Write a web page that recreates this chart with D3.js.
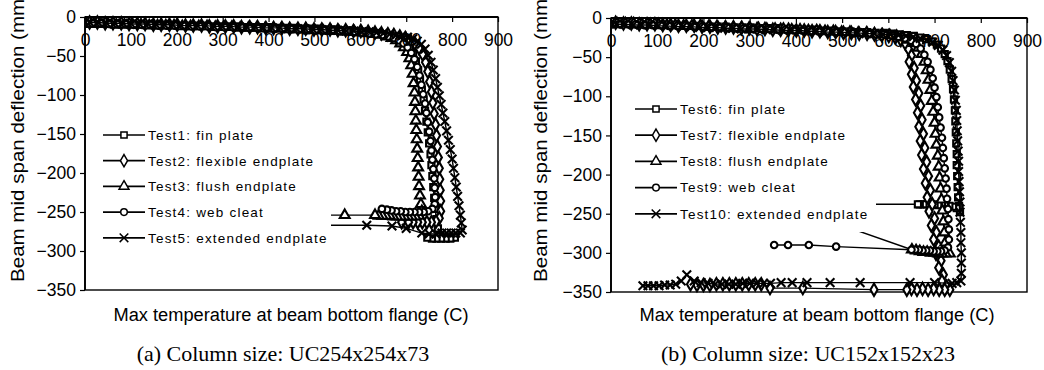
<!DOCTYPE html>
<html>
<head>
<meta charset="utf-8">
<script src="https://cdn.jsdelivr.net/npm/d3@7"></script>
<style>
  body { margin: 0; background: #fff; }
  svg text { font-family: "Liberation Sans", Arial, sans-serif; fill: #000; }
</style>
</head>
<body>
<svg id="chart" width="1044" height="370"></svg>
<script>
// axis ticks
const xTicks = [0, 100, 200, 300, 400, 500, 600, 700, 800, 900];
const yTicks = [0, -50, -100, -150, -200, -250, -300, -350];

// (a) UC254x254x73 : [temperature C, deflection mm]
const test1 = [[12,-8],[28,-8],[45,-8],[63,-9],[80,-9],[98,-9],[116,-9],[134,-10],[152,-10],[170,-10],[188,-10],[206,-11],[224,-11],[242,-11],[260,-11],[278,-12],[296,-12],[314,-12],[332,-12],[350,-13],[368,-13],[386,-13],[404,-13],[422,-14],[440,-14],[458,-14],[476,-15],[494,-15],[512,-15],[530,-16],[548,-16],[565,-17],[582,-17],[598,-18],[614,-19],[628,-20],[642,-21],[655,-22],[667,-24],[679,-26],[690,-29],[700,-33],[708,-39],[715,-47],[721,-57],[726,-68],[730,-80],[734,-93],[738,-106],[741,-120],[744,-134],[747,-148],[750,-162],[753,-176],[755,-190],[757,-204],[759,-218],[761,-232],[763,-246],[766,-259],[769,-271],[774,-280],[782,-283],[790,-283],[798,-283],[806,-283],[796,-284],[786,-284],[776,-284],[766,-284],[756,-284],[746,-283]];
const test2 = [[10,-7],[27,-7],[44,-8],[61,-8],[79,-8],[96,-9],[114,-9],[131,-9],[149,-10],[166,-10],[184,-10],[201,-10],[219,-11],[236,-11],[254,-11],[271,-12],[289,-12],[306,-12],[324,-12],[341,-13],[359,-13],[376,-13],[394,-14],[411,-14],[429,-14],[446,-15],[464,-15],[481,-15],[499,-16],[516,-16],[534,-16],[551,-17],[568,-17],[585,-18],[601,-18],[617,-19],[632,-20],[646,-21],[660,-22],[673,-23],[686,-25],[698,-27],[709,-30],[719,-34],[728,-40],[736,-48],[742,-58],[747,-70],[751,-83],[755,-96],[758,-110],[761,-124],[764,-138],[766,-152],[768,-166],[770,-180],[772,-194],[773,-208],[774,-222],[775,-236],[775,-249],[772,-258],[765,-262],[755,-263],[745,-263],[735,-263],[725,-263],[715,-263],[705,-263],[690,-263]];
const test3 = [[14,-9],[32,-9],[50,-9],[68,-10],[86,-10],[104,-10],[122,-10],[140,-11],[158,-11],[176,-11],[194,-11],[212,-12],[230,-12],[248,-12],[266,-12],[284,-13],[302,-13],[320,-13],[338,-14],[356,-14],[374,-14],[392,-15],[410,-15],[428,-15],[446,-16],[464,-16],[482,-16],[500,-17],[518,-17],[536,-18],[553,-18],[570,-19],[587,-19],[603,-20],[618,-21],[632,-22],[645,-23],[657,-25],[668,-27],[678,-30],[687,-34],[695,-39],[702,-45],[707,-53],[711,-62],[714,-73],[716,-85],[718,-97],[719,-109],[720,-121],[721,-133],[722,-145],[723,-157],[724,-169],[725,-181],[726,-193],[727,-205],[728,-217],[730,-229],[732,-240],[734,-249],[728,-255],[720,-256],[712,-256],[704,-256],[696,-256],[688,-256],[680,-256],[672,-256],[664,-255],[656,-255],[648,-255],[640,-255],[632,-254],[566,-254],[480,-254]];
const test4 = [[16,-8],[34,-8],[52,-9],[70,-9],[88,-9],[106,-10],[124,-10],[142,-10],[160,-11],[178,-11],[196,-11],[214,-11],[232,-12],[250,-12],[268,-12],[286,-13],[304,-13],[322,-13],[340,-13],[358,-14],[376,-14],[394,-14],[412,-15],[430,-15],[448,-15],[466,-16],[484,-16],[502,-17],[520,-17],[538,-17],[555,-18],[572,-18],[588,-19],[604,-20],[619,-21],[634,-22],[648,-23],[661,-25],[673,-27],[684,-30],[694,-34],[703,-39],[711,-46],[718,-54],[724,-64],[729,-75],[733,-87],[737,-99],[741,-111],[744,-123],[747,-135],[750,-147],[753,-159],[755,-171],[757,-183],[759,-195],[761,-207],[762,-219],[763,-231],[762,-240],[757,-246],[748,-249],[738,-250],[728,-250],[718,-250],[708,-250],[698,-250],[688,-249],[678,-249],[668,-248],[658,-247],[647,-246]];
const test5 = [[11,-7],[29,-7],[47,-8],[65,-8],[83,-8],[101,-9],[119,-9],[137,-9],[155,-10],[173,-10],[191,-10],[209,-11],[227,-11],[245,-11],[263,-11],[281,-12],[299,-12],[317,-12],[335,-13],[353,-13],[371,-13],[389,-14],[407,-14],[425,-14],[443,-15],[461,-15],[479,-15],[497,-16],[515,-16],[533,-17],[551,-17],[569,-18],[586,-18],[603,-19],[619,-19],[635,-20],[650,-21],[664,-22],[678,-23],[691,-24],[703,-26],[714,-28],[724,-31],[733,-35],[741,-41],[748,-49],[754,-58],[759,-68],[764,-79],[768,-90],[772,-101],[776,-112],[780,-123],[784,-134],[788,-146],[792,-158],[796,-170],[800,-182],[803,-194],[806,-206],[809,-218],[812,-230],[815,-242],[818,-254],[820,-264],[822,-273],[818,-277],[808,-277],[798,-277],[788,-277],[778,-277],[765,-278],[750,-278],[734,-277],[700,-271],[669,-268],[614,-267],[500,-267]];

// (b) UC152x152x23 : [temperature C, deflection mm]
const test6 = [[14,-7],[32,-7],[50,-8],[68,-8],[86,-8],[104,-9],[122,-9],[140,-9],[158,-10],[176,-10],[194,-10],[212,-11],[230,-11],[248,-11],[266,-12],[284,-12],[302,-12],[320,-13],[338,-13],[356,-13],[374,-14],[392,-14],[410,-15],[428,-15],[446,-15],[464,-16],[482,-16],[500,-17],[518,-17],[536,-18],[554,-18],[572,-19],[590,-19],[607,-20],[624,-21],[640,-22],[655,-23],[669,-25],[682,-27],[694,-30],[705,-34],[714,-39],[722,-46],[728,-55],[733,-66],[737,-78],[740,-91],[742,-104],[744,-118],[745,-132],[746,-146],[747,-160],[748,-174],[748,-188],[749,-202],[750,-216],[751,-229],[753,-240],[755,-248],[748,-243],[740,-241],[732,-240],[724,-239],[716,-239],[708,-239],[700,-238],[692,-238],[684,-238],[676,-238],[668,-238],[664,-238],[560,-238]];
const test7 = [[10,-6],[27,-7],[44,-7],[61,-8],[78,-8],[95,-8],[112,-9],[129,-9],[146,-10],[163,-10],[180,-10],[197,-11],[214,-11],[231,-12],[248,-12],[265,-12],[282,-13],[299,-13],[316,-14],[333,-14],[350,-15],[367,-15],[384,-15],[401,-16],[418,-16],[435,-17],[452,-17],[469,-18],[486,-18],[503,-19],[520,-19],[537,-20],[554,-20],[570,-21],[586,-22],[601,-23],[615,-25],[627,-28],[637,-33],[644,-40],[650,-48],[645,-56],[656,-64],[650,-72],[661,-80],[654,-88],[666,-96],[659,-104],[670,-112],[663,-121],[673,-130],[666,-139],[676,-148],[669,-157],[679,-166],[672,-175],[683,-184],[676,-193],[687,-202],[680,-211],[691,-220],[684,-229],[695,-238],[688,-247],[700,-256],[693,-265],[704,-274],[698,-283],[709,-292],[703,-301],[714,-310],[709,-319],[719,-328],[716,-336],[726,-343],[733,-347],[722,-347],[710,-347],[698,-346],[686,-347],[674,-346],[662,-347],[650,-346],[640,-347],[569,-347],[415,-345],[344,-345],[325,-340],[312,-340],[298,-340],[284,-340],[270,-340],[256,-340],[242,-340],[228,-340],[214,-341],[200,-341],[186,-341],[172,-340]];
const test8 = [[13,-7],[31,-7],[49,-7],[67,-8],[85,-8],[103,-8],[121,-9],[139,-9],[157,-10],[175,-10],[193,-10],[211,-11],[229,-11],[247,-12],[265,-12],[283,-12],[301,-13],[319,-13],[337,-14],[355,-14],[373,-14],[391,-15],[409,-15],[427,-16],[445,-16],[463,-17],[481,-17],[499,-18],[517,-18],[535,-19],[553,-19],[570,-20],[587,-21],[603,-22],[618,-23],[632,-25],[645,-28],[656,-32],[665,-38],[672,-46],[678,-56],[683,-67],[687,-79],[691,-92],[694,-106],[697,-120],[700,-134],[702,-148],[704,-162],[707,-176],[709,-190],[711,-204],[713,-218],[715,-232],[717,-246],[719,-260],[721,-274],[723,-287],[726,-297],[733,-301],[724,-301],[716,-301],[708,-301],[700,-300],[692,-300],[684,-299],[676,-299],[668,-298],[660,-297],[651,-296],[409,-246]];
const test9 = [[17,-8],[35,-8],[53,-8],[71,-9],[89,-9],[107,-9],[125,-10],[143,-10],[161,-10],[179,-11],[197,-11],[215,-12],[233,-12],[251,-12],[269,-13],[287,-13],[305,-14],[323,-14],[341,-14],[359,-15],[377,-15],[395,-16],[413,-16],[431,-17],[449,-17],[467,-17],[485,-18],[503,-18],[521,-19],[539,-19],[557,-20],[574,-21],[591,-21],[607,-22],[622,-24],[636,-26],[649,-29],[660,-33],[670,-39],[678,-47],[685,-56],[691,-66],[696,-77],[700,-89],[704,-101],[707,-114],[710,-127],[713,-140],[716,-153],[718,-166],[720,-179],[722,-192],[724,-205],[726,-218],[727,-231],[729,-244],[730,-257],[731,-270],[731,-283],[729,-293],[722,-297],[714,-298],[706,-298],[698,-298],[690,-297],[682,-297],[674,-297],[666,-296],[658,-296],[650,-296],[487,-292],[428,-290],[383,-290],[353,-290]];
const test10 = [[12,-8],[30,-8],[48,-9],[66,-9],[84,-9],[102,-10],[120,-10],[138,-11],[156,-11],[174,-11],[192,-12],[210,-12],[228,-12],[246,-13],[264,-13],[282,-14],[300,-14],[318,-14],[336,-15],[354,-15],[372,-16],[390,-16],[408,-16],[426,-17],[444,-17],[462,-18],[480,-18],[498,-18],[516,-19],[534,-19],[552,-20],[570,-20],[588,-21],[605,-21],[622,-22],[638,-23],[654,-24],[669,-26],[683,-28],[696,-31],[708,-35],[718,-41],[726,-48],[732,-57],[737,-68],[740,-80],[743,-92],[745,-105],[747,-118],[748,-131],[749,-144],[750,-157],[751,-170],[752,-183],[752,-196],[753,-209],[754,-222],[755,-235],[755,-248],[756,-261],[757,-274],[757,-287],[758,-300],[758,-313],[758,-326],[757,-336],[748,-338],[738,-339],[700,-338],[647,-338],[539,-338],[474,-338],[424,-338],[392,-338],[368,-338],[345,-339],[330,-339],[315,-339],[300,-339],[285,-339],[270,-340],[255,-340],[240,-340],[225,-340],[210,-339],[195,-338],[180,-336],[164,-328],[152,-336],[140,-340],[128,-341],[116,-341],[104,-342],[92,-342],[80,-342],[69,-342]];

const namesA = ['Test1: fin plate', 'Test2: flexible endplate', 'Test3: flush endplate', 'Test4: web cleat', 'Test5: extended endplate'];
const namesB = ['Test6: fin plate', 'Test7: flexible endplate', 'Test8: flush endplate', 'Test9: web cleat', 'Test10: extended endplate'];
const captionA = '(a) Column size: UC254x254x73';
const captionB = '(b) Column size: UC152x152x23';
const xTitle = 'Max temperature at beam bottom flange (C)';
const yTitle = 'Beam mid span deflection (mm)';

// marker shapes, same order in both panels
const shapes = [
  { type: d3.symbolSquare, size: 38 },
  { type: d3.symbolDiamond, size: 44 },
  { type: d3.symbolTriangle, size: 42 },
  { type: d3.symbolCircle, size: 34 },
  { type: d3.symbolTimes || d3.symbolX, size: 50 }
];

const svg = d3.select('#chart');
svg.append('rect').attr('width', 1044).attr('height', 370).attr('fill', '#fff');

function drawMarker(g, i, px, py, sw) {
  const s = shapes[i];
  g.append('path')
    .attr('transform', `translate(${px},${py})`)
    .attr('d', d3.symbol().type(s.type).size(s.size)())
    .attr('fill', '#fff')
    .attr('stroke', '#000')
    .attr('stroke-width', sw);
}

function drawPanel(p) {
  const x = d3.scaleLinear().domain([0, 900]).range([p.left, p.right]);
  const y = d3.scaleLinear().domain([0, -350]).range([p.top, p.bottom]);
  const g = svg.append('g');

  // frame of the plot area
  g.append('rect')
    .attr('x', p.left).attr('y', p.top)
    .attr('width', p.right - p.left).attr('height', p.bottom - p.top)
    .attr('fill', 'none').attr('stroke', '#000').attr('stroke-width', 1.4);

  // series: line first, then its markers
  const line = d3.line().x(d => x(d[0])).y(d => y(d[1]));
  p.series.forEach((data, i) => {
    g.append('path').datum(data)
      .attr('d', line)
      .attr('fill', 'none')
      .attr('stroke', '#000')
      .attr('stroke-width', 1.4);
    const mg = g.append('g');
    data.forEach(d => drawMarker(mg, i, x(d[0]), y(d[1]), 2.1));
  });

  // x axis sits on y = 0 (top), labels hang below it
  const xAxis = d3.axisBottom(x).tickValues(xTicks).tickSize(5).tickSizeOuter(0).tickPadding(12);
  const gx = g.append('g').attr('transform', `translate(0,${y(0)})`).call(xAxis);
  gx.select('.domain').remove();
  gx.selectAll('line').attr('stroke', '#000').attr('stroke-width', 1.2);
  gx.selectAll('text').attr('font-size', '17.5px').attr('font-family', '"Liberation Sans", Arial, sans-serif');

  const yAxis = d3.axisLeft(y).tickValues(yTicks).tickSize(5).tickSizeOuter(0).tickPadding(4);
  const gy = g.append('g').attr('transform', `translate(${x(0)},0)`).call(yAxis);
  gy.select('.domain').remove();
  gy.selectAll('line').attr('stroke', '#000').attr('stroke-width', 1.2);
  gy.selectAll('text').attr('font-size', '17.5px').attr('font-family', '"Liberation Sans", Arial, sans-serif');

  // redraw axis lines on top
  g.append('line').attr('x1', p.left).attr('x2', p.right).attr('y1', y(0)).attr('y2', y(0))
    .attr('stroke', '#000').attr('stroke-width', 1.8);
  g.append('line').attr('x1', x(0)).attr('x2', x(0)).attr('y1', p.top).attr('y2', p.bottom)
    .attr('stroke', '#000').attr('stroke-width', 1.8);

  // legend with white box
  const lg = g.append('g');
  lg.append('rect')
    .attr('x', p.legX - 4).attr('y', p.legY - 14)
    .attr('width', p.legW).attr('height', p.legH)
    .attr('fill', '#fff');
  p.names.forEach((name, i) => {
    const cy = p.legY + i * p.legStep;
    lg.append('line').attr('x1', p.legX).attr('x2', p.legX + 42).attr('y1', cy).attr('y2', cy)
      .attr('stroke', '#000').attr('stroke-width', 1.7);
    drawMarker(lg, i, p.legX + 21, cy, 1.5);
    lg.append('text')
      .attr('x', p.legX + 45).attr('y', cy + 4.8)
      .attr('font-size', '13.5px').attr('letter-spacing', '1.2px')
      .text(name);
  });

  // titles
  g.append('text')
    .attr('x', p.xTitleX).attr('y', 321)
    .attr('text-anchor', 'middle').attr('font-size', '18px')
    .attr('textLength', 355).attr('lengthAdjust', 'spacingAndGlyphs')
    .text(xTitle);
  g.append('text')
    .attr('transform', `translate(${p.yTitleX},282) rotate(-90)`)
    .attr('font-size', '18px')
    .attr('textLength', 290).attr('lengthAdjust', 'spacingAndGlyphs')
    .text(yTitle);
  g.append('text')
    .attr('x', p.capX).attr('y', 361)
    .attr('text-anchor', 'middle')
    .attr('font-size', '22px')
    .style('font-family', '"Liberation Serif", "Times New Roman", serif')
    .text(p.caption);
}

drawPanel({
  left: 85, right: 498, top: 17, bottom: 290,
  series: [test1, test2, test3, test4, test5], names: namesA,
  legX: 103, legY: 135, legStep: 25.7, legW: 232, legH: 128,
  xTitleX: 291, yTitleX: 24, capX: 283, caption: captionA
});
drawPanel({
  left: 611, right: 1027, top: 18, bottom: 292,
  series: [test6, test7, test8, test9, test10], names: namesB,
  legX: 635, legY: 109, legStep: 26.2, legW: 245, legH: 137,
  xTitleX: 817, yTitleX: 547, capX: 808, caption: captionB
});
</script>
</body>
</html>
